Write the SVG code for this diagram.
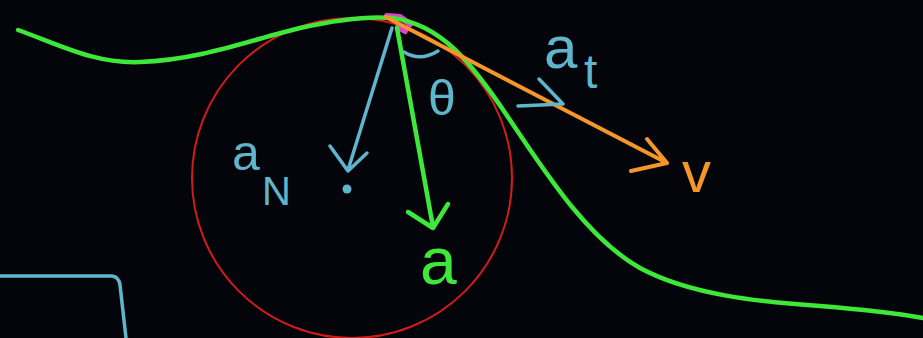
<svg xmlns="http://www.w3.org/2000/svg" width="923" height="338" viewBox="0 0 923 338">
<style>
.bg{fill:#04050b}
.ln{fill:none;stroke-linecap:round;stroke-linejoin:round}
.g{stroke:#3ee83a;stroke-width:4.5}
.o{stroke:#f5962a;stroke-width:4}
.b{stroke:#5fb6cc;stroke-width:3.5}
.r{stroke:#d21c1c;stroke-width:2}
.p{stroke:#e33fd0;stroke-width:6}
.t{font-family:"Liberation Sans",Arial,sans-serif}
.tb{fill:#5fb6cc}
.tg{fill:#3ee83a}
.to{fill:#f5962a}
</style>
<rect class="bg" x="0" y="0" width="923" height="338"/>
<g id="box">
<path class="ln b" d="M0,276 L112,276 Q119,277 120,285 L126,338"/>
</g>
<g id="circle">
<circle class="ln r" cx="352" cy="178" r="160"/>
</g>
<g id="curve">
<path class="ln p" d="M387,16 L400,17 L410,24 M398,27 L405,31"/>
<path class="ln g" d="M18,30 C60,45 95,64 140,62 C200,60 250,40 300,28 C340,19 370,16 392,18 C440,24 470,60 510,120 C550,180 590,240 640,268 C690,295 760,302 820,306 C870,310 900,314 923,318"/>
</g>
<g id="connectors">
<path class="ln o" d="M386,17 L667,163 M647,139 L667,163 L631,171"/>
<path class="ln b" d="M518,106 L563,104 L539,79"/>
<path class="ln b" d="M392,28 L348,170 M330,146 L348,171 L367,153"/>
<path class="ln g" d="M397,28 L433,227 M408,212 L433,228 L448,204"/>
<path class="ln b" d="M404,52 Q420,62 438,51"/>
<circle cx="347" cy="189" r="4.5" class="tb"/>
</g>
<g id="labels">
<text class="t tb" x="544" y="68" font-size="60">a</text>
<text class="t tb" x="584" y="88" font-size="48">t</text>
<text class="t tb" x="428" y="115" font-size="50">θ</text>
<text class="t tb" x="232" y="170" font-size="50">a</text>
<text class="t tb" x="262" y="205" font-size="40">N</text>
<text class="t tg" x="420" y="284" font-size="66">a</text>
<text class="t to" x="682" y="192" font-size="58">v</text>
</g>
</svg>
